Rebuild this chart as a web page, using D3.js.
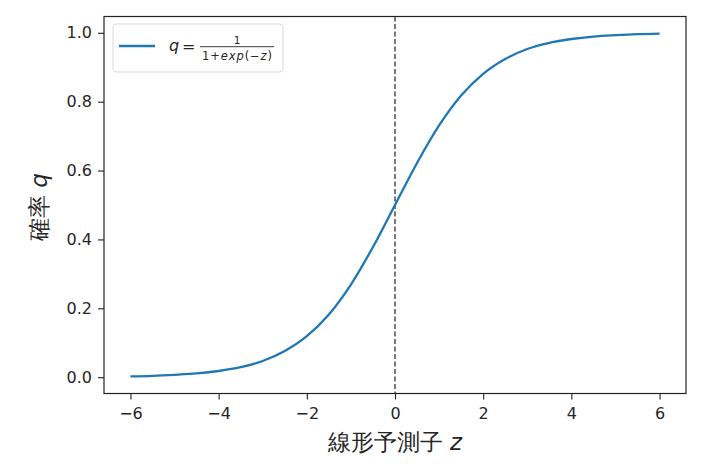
<!DOCTYPE html>
<html><head><meta charset="utf-8">
<script src="https://cdn.jsdelivr.net/npm/d3@7"></script>
<style>body{margin:0;background:#fff}text{font-family:"DejaVu Sans",sans-serif}</style>
</head><body><svg id="c" width="713" height="464"></svg>
<script>
const zValues = [-6,-5.5,-5,-4.5,-4,-3.5,-3,-2.5,-2,-1.5,-1,-0.5,0,0.5,1,1.5,2,2.5,3,3.5,4,4.5,5,5.5,6];
const qValues = [0.0025,0.004,0.007,0.011,0.018,0.029,0.047,0.076,0.119,0.182,0.269,0.378,0.5,0.622,0.731,0.818,0.881,0.924,0.953,0.971,0.982,0.989,0.993,0.996,0.9975];
const xTicks = [-6,-4,-2,0,2,4,6];
const yTicks = [0.0,0.2,0.4,0.6,0.8,1.0];
const xLabel = "線形予測子 ";
const yLabel = "確率 ";

const svg = d3.select("#c");
const L=104, R=686, T=16.5, B=393.5;
const x = d3.scaleLinear().domain([-6.6,6.6]).range([L,R]);
const y = d3.scaleLinear().domain([-0.0473,1.0473]).range([B,T]);

const xAxis = svg.append("g").attr("transform",`translate(0,${B})`)
  .call(d3.axisBottom(x).tickValues(xTicks).tickSize(6).tickPadding(8).tickFormat(d=>d<0?"\u2212"+Math.abs(d):d));
const yAxis = svg.append("g").attr("transform",`translate(${L},0)`)
  .call(d3.axisLeft(y).tickValues(yTicks).tickSize(6).tickPadding(6).tickFormat(d3.format(".1f")));
[xAxis,yAxis].forEach(a=>{a.select(".domain").remove();
  a.selectAll("text").attr("font-size","16px").attr("fill","#262626").attr("font-family","DejaVu Sans");
  a.selectAll("line").attr("stroke","#222").attr("stroke-width",1.1);});

// dashed vertical line
svg.append("line").attr("x1",x(0)).attr("x2",x(0)).attr("y1",T).attr("y2",B)
  .attr("stroke","#333").attr("stroke-width",1.3).attr("stroke-dasharray","5,2.5");

// curve
const data = zValues.map((z,i)=>({z,q:qValues[i]}));
svg.append("path").datum(data).attr("fill","none").attr("stroke","#1f77b4").attr("stroke-width",2.3)
  .attr("d",d3.line().x(d=>x(d.z)).y(d=>y(d.q)).curve(d3.curveMonotoneX));

// frame
svg.append("rect").attr("x",L).attr("y",T).attr("width",R-L).attr("height",B-T)
  .attr("fill","none").attr("stroke","#222").attr("stroke-width",1.2);

// legend
const lg = svg.append("g");
lg.append("rect").attr("x",113).attr("y",24).attr("width",170).attr("height",48).attr("rx",3)
  .attr("fill","#fff").attr("fill-opacity",0.8).attr("stroke","#d9d9d9");
lg.append("line").attr("x1",119).attr("x2",155).attr("y1",46).attr("y2",46).attr("stroke","#1f77b4").attr("stroke-width",2.3);
lg.append("text").attr("x",169).attr("y",51).attr("font-size","16px").attr("font-style","italic").attr("fill","#262626").text("q");
lg.append("text").attr("x",182).attr("y",52).attr("font-size","16px").attr("fill","#262626").text("=");
lg.append("line").attr("x1",200).attr("x2",274).attr("y1",46.7).attr("y2",46.7).attr("stroke","#262626").attr("stroke-width",0.9);
lg.append("text").attr("x",237).attr("y",43.5).attr("text-anchor","middle").attr("font-size","10.5px").attr("fill","#262626").text("1");
const den = lg.append("text").attr("x",202).attr("y",60).attr("font-size","11.5px").attr("fill","#262626")
  .attr("textLength",70).attr("lengthAdjust","spacing");
den.append("tspan").text("1+");
den.append("tspan").attr("font-style","italic").text("exp");
den.append("tspan").text("(\u2212");
den.append("tspan").attr("font-style","italic").text("z");
den.append("tspan").text(")");

// axis labels
const xl = svg.append("text").attr("x",(L+R)/2).attr("y",450).attr("text-anchor","middle")
  .attr("font-size","23px").attr("fill","#262626").attr("font-family","'Noto Sans CJK JP',sans-serif");
xl.append("tspan").text(xLabel);
xl.append("tspan").attr("font-style","italic").attr("font-family","DejaVu Sans").attr("font-size","23px").text("z");
const yl = svg.append("text").attr("transform",`translate(47,207) rotate(-90)`).attr("text-anchor","middle")
  .attr("font-size","23px").attr("fill","#262626").attr("font-family","'Noto Sans CJK JP',sans-serif");
yl.append("tspan").text(yLabel);
yl.append("tspan").attr("font-style","italic").attr("font-family","DejaVu Sans").attr("font-size","23px").text("q");
</script></body></html>
